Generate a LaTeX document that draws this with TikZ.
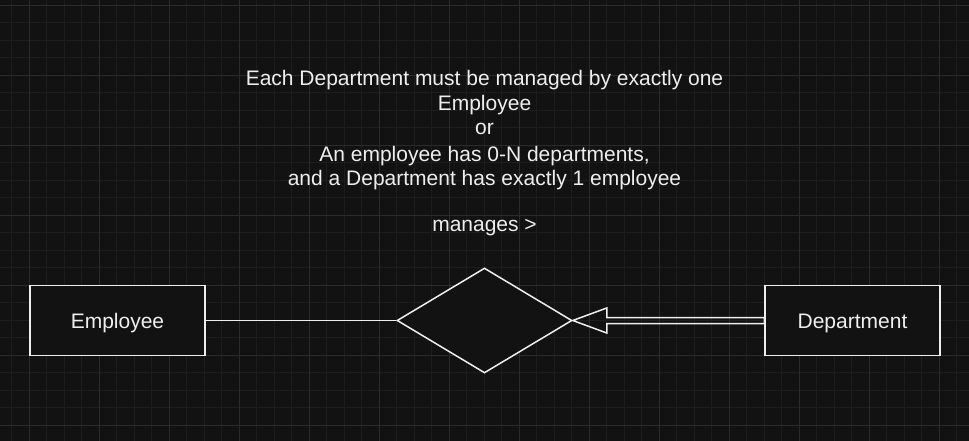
\documentclass[tikz,border=0pt]{standalone}
\usepackage{fontspec}
\setmainfont{Liberation Sans}
\usetikzlibrary{shapes.geometric,calc}
\definecolor{bg}{HTML}{121212}
\definecolor{gridminor}{HTML}{1D1D1D}
\definecolor{gridmajor}{HTML}{2B2B2B}
\definecolor{ink}{HTML}{EEEEEE}
\tikzset{
  txt/.style={text=ink,font=\fontsize{21}{25}\selectfont,inner sep=0pt},
  entity/.style={draw=ink,line width=1.5pt,fill=bg,minimum width=175pt,minimum height=70pt,inner sep=0pt,text height=15.6pt,text depth=0pt,text=ink,font=\fontsize{21}{25}\selectfont},
  relation/.style={diamond,draw=ink,line width=1.5pt,fill=bg,minimum width=175pt,minimum height=105pt,inner sep=0pt,aspect=1.667},
  conn/.style={draw=ink,line width=1.5pt,line join=miter},
  line/.style={txt,anchor=base}
}
\begin{document}
\begin{tikzpicture}[x=1pt,y=-1pt]
\fill[bg] (0,0) rectangle (969,441);
\useasboundingbox (0,0) rectangle (969,441);
% grid
\foreach \i in {0,...,55} {
  \draw[gridminor,line width=0.8pt] ({11.8+17.5*\i},0) -- ({11.8+17.5*\i},441);
}
\foreach \i in {0,...,25} {
  \draw[gridminor,line width=0.8pt] (0,{5+17.5*\i}) -- (969,{5+17.5*\i});
}
\foreach \i in {0,...,13} {
  \draw[gridmajor,line width=0.9pt] ({29.3+70*\i},0) -- ({29.3+70*\i},441);
}
\foreach \i in {0,...,6} {
  \draw[gridmajor,line width=0.9pt] (0,{5+70*\i}) -- (969,{5+70*\i});
}
% texts
\node[line] (t1) at (484.5,86) {Each Department must be managed by exactly one};
\node[line] (t2) at (484.5,111) {Employee};
\node[line] (t3) at (484.5,134.5) {or};
\node[line] (t4) at (484.5,161.7) {An employee has 0-N departments,};
\node[line] (t5) at (484.5,185.7) {and a Department has exactly 1 employee};
\node[line] (lbl) at (484.5,231.7) {manages >};
% shapes
\node[entity] (emp) at (117.5,320.5) {Employee};
\node[entity] (dept) at (852.5,320.5) {Department};
\node[relation] (rel) at (484.5,320.5) {};
% connectors
\draw[conn] (emp.east) -- (rel.west);
\draw[conn] (rel.east) -- ++(34,-12.5) -- ++(0,9.5)
  -- ($(dept.west)+(0,-3)$) -- ($(dept.west)+(0,3)$)
  -- ($(rel.east)+(34,3)$) -- ++(0,9.5) -- cycle;
\end{tikzpicture}
\end{document}
